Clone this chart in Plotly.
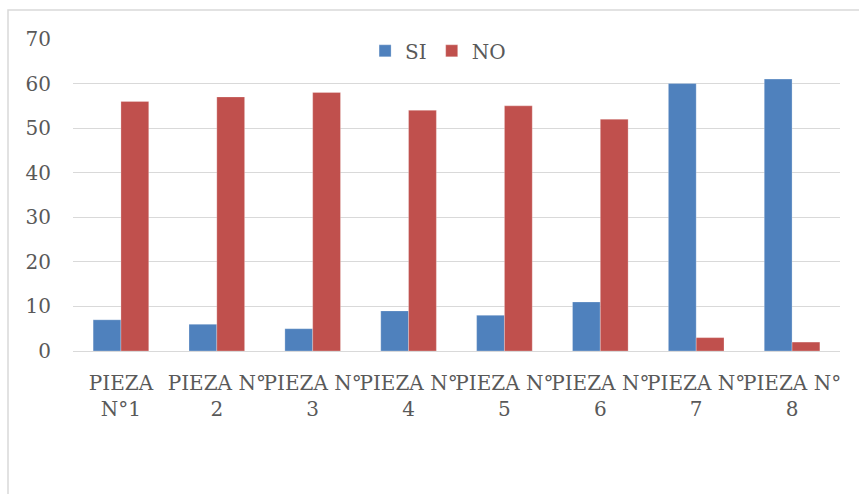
import plotly.graph_objects as go

categories = ["PIEZA<br>N°1", "PIEZA N°<br>2", "PIEZA N°<br>3", "PIEZA N°<br>4",
              "PIEZA N°<br>5", "PIEZA N°<br>6", "PIEZA N°<br>7", "PIEZA N°<br>8"]
si_values = [7, 6, 5, 9, 8, 11, 60, 61]
no_values = [56, 57, 58, 54, 55, 52, 3, 2]
y_ticks = [0, 10, 20, 30, 40, 50, 60, 70]

FONT = "DejaVu Serif"
FS = 20
fig = go.Figure()
fig.add_trace(go.Bar(name="SI", x=categories, y=si_values, marker_color="#4f81bd",
                     marker_line=dict(color="rgba(255,255,255,0.5)", width=0.5)))
fig.add_trace(go.Bar(name="NO", x=categories, y=no_values, marker_color="#c0504d",
                     marker_line=dict(color="rgba(255,255,255,0.5)", width=0.5)))

fig.update_layout(
    width=859, height=494,
    margin=dict(l=73, r=19, t=39, b=143),
    paper_bgcolor="white", plot_bgcolor="white",
    barmode="group", bargap=0.42, bargroupgap=0,
    font=dict(family=FONT, size=FS, color="#595959"),
    showlegend=True,
    legend=dict(orientation="h", x=0.476, y=0.962, xanchor="center", yanchor="middle",
                font=dict(family=FONT, size=FS, color="#595959"),
                bgcolor="rgba(0,0,0,0)", itemwidth=30, tracegroupgap=0),
    xaxis=dict(showgrid=False, showline=False, ticks="", tickfont=dict(family=FONT, size=FS),
               ticklabelstandoff=18, tickangle=0, automargin=False),
    yaxis=dict(range=[0, 70], tickvals=y_ticks, showgrid=True, gridcolor="#d9d9d9",
               gridwidth=1, zeroline=True, zerolinecolor="#d9d9d9", zerolinewidth=1,
               showline=False, ticks="", tickfont=dict(family=FONT, size=FS),
               ticklabelstandoff=21, automargin=False),
    shapes=[dict(type="rect", xref="paper", yref="paper",
                 x0=(8 - 73) / 767, x1=1.2, y0=-0.7, y1=1 + (39 - 10) / 312,
                 line=dict(color="#d9d9d9", width=1.5), fillcolor="rgba(0,0,0,0)",
                 layer="below")],
)

fig.write_html("out.html")
